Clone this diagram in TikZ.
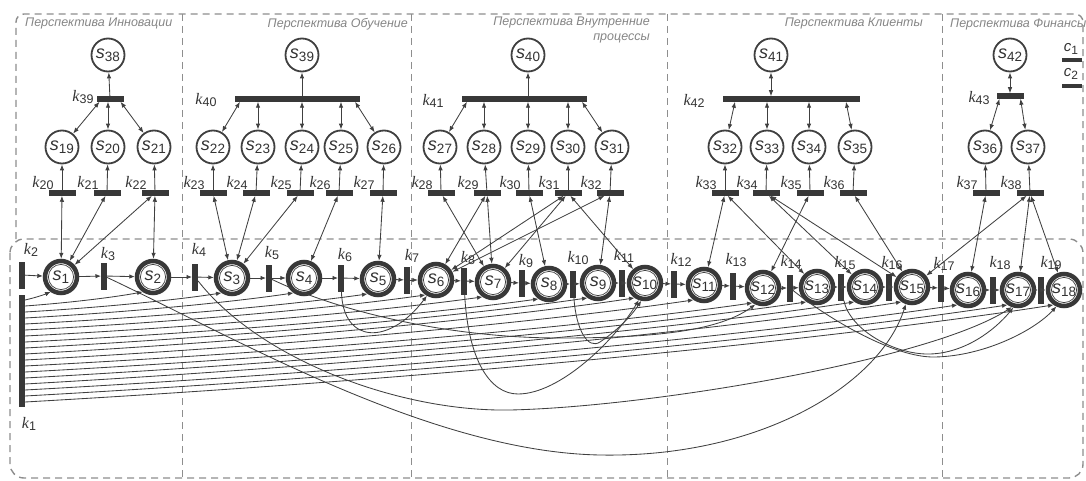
\documentclass[tikz,border=0pt]{standalone}
\usepackage{fontspec}
\setmainfont{Liberation Sans}
\newfontfamily\serifk{Liberation Serif}
\usetikzlibrary{arrows.meta,calc}
\definecolor{ln}{HTML}{404040}
\definecolor{frm}{HTML}{8E8E8E}
\definecolor{barc}{HTML}{383838}
\definecolor{ttlc}{HTML}{858585}
\definecolor{txt}{HTML}{333333}
\newcommand{\sname}[1]{{\fontsize{18}{18}\selectfont\itshape s}\raisebox{-0.5ex}{\fontsize{13.5}{13.5}\selectfont #1}}
\newcommand{\kname}[1]{{\fontsize{16}{16}\selectfont\serifk\itshape k}\raisebox{-0.5ex}{\fontsize{12.5}{12.5}\selectfont #1}}
\newcommand{\cname}[1]{{\fontsize{15}{15}\selectfont\itshape c}\raisebox{-0.5ex}{\fontsize{12}{12}\selectfont #1}}
\begin{document}
\begin{tikzpicture}[x=1pt,y=-1pt,
 up/.style={circle,draw=ln,line width=1.8pt,minimum size=33pt,inner sep=0pt,fill=white,text=txt},
 mainnode/.style={circle,draw=barc,line width=4.5pt,minimum size=32pt,inner sep=0pt,outer sep=2.2pt,fill=white,text=txt},
 hbar/.style={fill=barc,minimum width=27pt,minimum height=5.5pt,inner sep=0pt,outer sep=0pt},
 vbar/.style={fill=barc,minimum width=6pt,minimum height=27pt,inner sep=0pt,outer sep=0pt},
 arr/.style={draw=ln,line width=0.85pt,-{Latex[length=6pt,width=4.5pt]}},
 dbl/.style={draw=ln,line width=0.85pt,{Latex[length=6pt,width=4.5pt]}-{Latex[length=6pt,width=4.5pt]}},
 sarr/.style={draw=ln,line width=0.85pt,-{Latex[length=5.5pt,width=4.5pt]}},
 lbl/.style={inner sep=0pt,text=txt},
 dframe/.style={draw=frm,line width=1.4pt,dash pattern=on 7pt off 5pt},
 dline/.style={draw=frm,line width=1pt,dash pattern=on 7pt off 5pt},
 ttl/.style={text=ttlc,font=\fontsize{12.5}{15}\selectfont\itshape,inner sep=0pt}]
\useasboundingbox (0,0) rectangle (1086,481);
% frames
\draw[dframe,rounded corners=8pt] (16,239) -- (16,14) -- (1083,14) -- (1083,239);
\draw[dframe,rounded corners=14pt] (10,239) rectangle (1083,478);
\foreach \xx in {182,411,667,942} \draw[dline] (\xx,14) -- (\xx,478);
% titles
\node[ttl,anchor=west] (t1) at (25,24) {Перспектива Инновации};
\node[ttl,anchor=east] (t2) at (408,24) {Перспектива Обучение};
\node[ttl,anchor=north east,align=right] (t3) at (650,17) {Перспектива Внутренние\\процессы};
\node[ttl,anchor=east] (t4) at (923,24) {Перспектива Клиенты};
\node[ttl,anchor=west] (t5) at (950,24) {Перспектива Финансы};
% legend
\node[lbl] (c1) at (1071,49) {\cname{1}};
\node[fill=barc,minimum width=20pt,minimum height=4pt,inner sep=0pt] (cb1) at (1072,60) {};
\node[lbl] (c2) at (1071,74) {\cname{2}};
\node[fill=barc,minimum width=20pt,minimum height=4pt,inner sep=0pt] (cb2) at (1072,86) {};
% upper places
\foreach \n/\x/\y in {38/108/55,39/302/55,40/528/55,41/771/55,42/1010/55,19/62/147,20/108/147,21/154/147,22/213/147,23/258/147,24/302/147,25/341/147,26/384/147,27/440/147,28/484/147,29/528/147,30/568/147,31/612/147,32/725/147,33/767/147,34/809/147,35/855/147,36/985/147,37/1028/147}
  \node[up] (s\n) at (\x,\y) {\sname{\n}};
% main places
\foreach \n/\x/\y in {1/61/277,2/153/277,3/232/278,4/304/278,5/378/279,6/436/280,7/493/282,8/549/284,9/598/283,10/645/283,11/704/285,12/763/288,13/817/287,14/865/287,15/912/287,16/968/290,17/1018/290,18/1064/290}
  \node[mainnode] (s\n) at (\x,\y) {\sname{\n}};
\foreach \n in {1,...,18} \draw[draw=ln,line width=0.7pt] (s\n.center) circle (12.6);
% main transitions
\foreach \n/\x/\y in {2/22/275,3/104/276,4/195/277,5/269/278,6/341/278,7/407/280,8/464/281,9/522/283,10/573/284,11/622/283,12/674/284,13/733/286,14/790/288,15/841/287,16/889/287,17/941/288,18/993/290,19/1041/290}
  \node[vbar] (k\n) at (\x,\y) {};
\foreach \n/\x/\y in {2/31/250,3/108/254,4/199/250,5/272/253,6/345/255,7/412/256,8/468/258,9/526/261,10/578/258,11/624/256,12/681/260,13/736/260,14/791/262,15/845/263,16/892/263,17/944/264,18/1000/263,19/1051/263}
  \node[lbl] (lk\n) at (\x,\y) {\kname{\n}};
\node[fill=barc,minimum width=6pt,minimum height=112pt,inner sep=0pt,outer sep=0pt] (k1) at (22,351) {};
\node[lbl] (lk1) at (29,424) {\kname{1}};
% top transitions
\node[hbar] (k39) at (110,99) {};
\node[hbar,minimum width=125pt] (k40) at (297.5,99) {};
\node[hbar,minimum width=125pt] (k41) at (524.5,99) {};
\node[hbar,minimum width=137pt] (k42) at (791.5,99) {};
\node[hbar] (k43) at (1010,96) {};
\node[lbl] (lk39) at (83,97) {\kname{39}};
\node[lbl] (lk40) at (206,100) {\kname{40}};
\node[lbl] (lk41) at (433,101) {\kname{41}};
\node[lbl] (lk42) at (694,101) {\kname{42}};
\node[lbl] (lk43) at (979,98) {\kname{43}};
% lower transitions of the upper part
\foreach \n/\x in {20/62,21/107,22/155,23/213,24/256,25/300,26/339,27/383,28/441,29/487,30/529,31/568,32/610,33/725,34/766,35/810,36/853,37/986,38/1030}{
  \node[hbar] (k\n) at (\x,193) {};
  \node[lbl] (lk\n) at ($(k\n)+(-19,-10)$) {\kname{\n}};
}
% top arcs
\draw[arr] (k39) -- (s38);
\draw[arr] (k40.north -| s39) -- (s39);
\draw[arr] (k41.north -| s40) -- (s40);
\draw[dbl] (k42.north -| s41) -- (s41);
\draw[dbl] (k43.north -| s42) -- (s42);
\draw[dbl] ([xshift=3pt]k39.south west) -- (s19);
\draw[dbl] (k39.south -| s20) -- (s20);
\draw[dbl] ([xshift=-3pt]k39.south east) -- (s21);
\draw[dbl] ([xshift=5pt]k40.south west) -- (s22);
\foreach \c in {23,24,25} \draw[dbl] (k40.south -| s\c) -- (s\c);
\draw[dbl] ([xshift=-5pt]k40.south east) -- (s26);
\draw[dbl] ([xshift=5pt]k41.south west) -- (s27);
\foreach \c in {28,29,30} \draw[dbl] (k41.south -| s\c) -- (s\c);
\draw[dbl] ([xshift=-5pt]k41.south east) -- (s31);
\draw[dbl] ([xshift=12pt]k42.south west) -- (s32);
\foreach \c in {33,34} \draw[dbl] (k42.south -| s\c) -- (s\c);
\draw[dbl] ([xshift=-14pt]k42.south east) -- (s35);
\draw[dbl] ([xshift=3pt]k43.south west) -- (s36);
\draw[dbl] ([xshift=-3pt]k43.south east) -- (s37);
\foreach \a/\b in {20/19,21/20,22/21,23/22,24/23,25/24,26/25,27/26,28/27,29/28,30/29,31/30,32/31,33/32,34/33,35/34,36/35,37/36,38/37}
  \draw[arr] (k\a) -- (s\b);
% links between upper transitions and main places
\foreach \a/\b in {20/1,21/1,22/1,22/2,23/3,24/3,25/3,26/4,27/5,28/7,29/6,29/7,30/8,31/6,31/7,31/10,32/6,32/9,33/11,33/13,34/14,34/15,35/12,36/15,37/16,38/15,38/17,38/18}
  \draw[dbl] (k\a) -- (s\b);
% main chain
\foreach \i [evaluate=\i as \j using int(\i+1)] in {1,...,18} \draw[sarr] (k\j) -- (s\i);
\foreach \i [evaluate=\i as \j using int(\i+2)] in {1,...,17} \draw[sarr] (s\i) -- (k\j);
% fan from k1
\foreach \n/\x/\y in {1/61/277,2/153/277,3/232/278,4/304/278,5/378/279,6/436/280,7/493/282,8/549/284,9/598/283,10/645/283,11/704/285,12/763/288,13/817/287,14/865/287,15/912/287,16/968/290,17/1018/290,18/1064/290}{
  \pgfmathsetmacro\ys{5+(\n-1)*6}
  \pgfmathsetmacro\ya{295+\ys}
  \pgfmathsetmacro\xe{\x-11}
  \pgfmathsetmacro\ye{\y+15}
  \pgfmathsetmacro\cxa{22+0.5*(\xe-22)}
  \pgfmathsetmacro\cya{\ya-0.3*(\ya-\ye)}
  \pgfmathsetmacro\cxb{\xe-0.15*(\xe-22)}
  \pgfmathsetmacro\cyb{\ye+0.25*(\ya-\ye)}
  \draw[sarr] ($(k1.north east)+(0,\ys)$) .. controls (\cxa,\cya) and (\cxb,\cyb) .. (s\n.235);
}
% long arcs
\draw[sarr] (k3) .. controls (230,335) and (430,452) .. (600,455) .. controls (760,458) and (880,385) .. (s15.250);
\draw[sarr] (k4) .. controls (260,360) and (400,412) .. (510,410) .. controls (650,407) and (930,360) .. (s17.250);
\draw[sarr] (k5) .. controls (340,312) and (450,338) .. (560,338) .. controls (660,338) and (720,330) .. (s12.245);
\draw[sarr] (k6) .. controls (343,345) and (390,345) .. (s6.240);
\draw[sarr] (k8) .. controls (468,360) and (490,394) .. (518,394) .. controls (560,394) and (615,340) .. (s10.250);
\draw[sarr] (k10) .. controls (576,330) and (588,350) .. (600,342) .. controls (615,332) and (630,318) .. (s10.258);
\draw[sarr] (k14) .. controls (830,320) and (895,358) .. (935,357) .. controls (985,356) and (1035,330) .. (s18.245);
\draw[sarr] (k15) .. controls (850,330) and (895,355) .. (930,354) .. controls (965,353) and (995,330) .. (s17.255);
\end{tikzpicture}
\end{document}
